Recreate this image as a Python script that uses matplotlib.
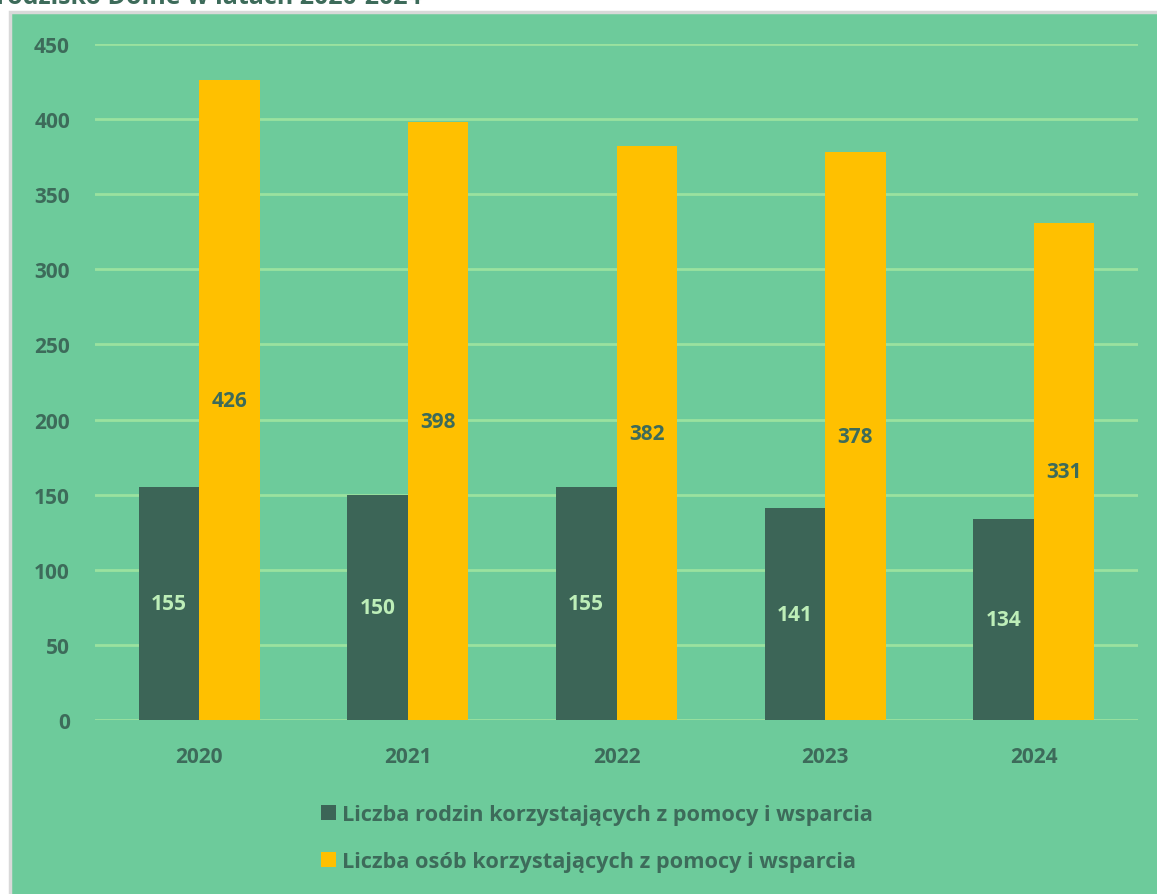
import matplotlib.pyplot as plt
from matplotlib.patches import Rectangle
import numpy as np

# data
years = ['2020', '2021', '2022', '2023', '2024']
rodziny = [155, 150, 155, 141, 134]
osoby = [426, 398, 382, 378, 331]
series_names = ['Liczba rodzin korzystających z pomocy i wsparcia',
				'Liczba osób korzystających z pomocy i wsparcia']
yticks = [0, 50, 100, 150, 200, 250, 300, 350, 400, 450]

bg = '#6dcb9b'
grid_col = '#9ae29f'
dark = '#3c6557'
yellow = '#ffc000'
txt = '#3d6b5a'

plt.rcParams['font.family'] = ['Open Sans', 'DejaVu Sans']

fig = plt.figure(figsize=(11.57, 8.95), dpi=100)
fig.patch.set_facecolor('white')

# green chart area with light grey frame
fig.patches.append(Rectangle((10/1157, -0.01), 1.02, (895-13)/895 + 0.01,
							 transform=fig.transFigure, facecolor=bg,
							 edgecolor='#d9d9d9', linewidth=2.5, zorder=-5))

# cut off title at the very top
fig.text(-0.019, 1 - 4.5/895, 'Grodzisko Dolne w latach 2020-2024', fontsize=18,
		 fontweight='bold', color=txt, va='baseline', ha='left')

ax = fig.add_axes([95/1157, 174/895, 1043/1157, 676/895])
ax.patch.set_alpha(0)

x = np.arange(len(years))
w = 0.29
b1 = ax.bar(x - w/2, rodziny, w, color=dark, label=series_names[0], zorder=3)
b2 = ax.bar(x + w/2, osoby, w, color=yellow, label=series_names[1], zorder=3)

for rect, v in zip(b1, rodziny):
	ax.text(rect.get_x() + rect.get_width()/2, v/2, str(v), ha='center', va='center',
			fontsize=15, fontweight='bold', color='#bdeeb8', zorder=4)
for rect, v in zip(b2, osoby):
	ax.text(rect.get_x() + rect.get_width()/2, v/2, str(v), ha='center', va='center',
			fontsize=15, fontweight='bold', color=txt, zorder=4)

ax.set_xlim(-0.5, len(years) - 0.5)
ax.set_ylim(0, 450)
ax.set_yticks(yticks)
ax.set_xticks(x)
ax.set_xticklabels(years)
ax.yaxis.grid(True, color=grid_col, linewidth=2, zorder=1)
ax.set_axisbelow(True)
for s in ax.spines.values():
	s.set_visible(False)
ax.tick_params(length=0, colors=txt, labelsize=15)
ax.tick_params(axis='y', pad=18)
ax.tick_params(axis='x', pad=19)
for lab in ax.get_xticklabels() + ax.get_yticklabels():
	lab.set_fontweight('bold')

leg = fig.legend(handles=[b1, b2], loc='center', bbox_to_anchor=(597/1157, 1 - 839/895),
				 ncol=1, frameon=False, fontsize=15.7, handlelength=0.7, handleheight=0.7,
				 handletextpad=0.3, labelspacing=1.2, labelcolor=txt)
for t in leg.get_texts():
	t.set_fontweight('bold')

fig.savefig('out.png', dpi=100, facecolor=fig.get_facecolor())
